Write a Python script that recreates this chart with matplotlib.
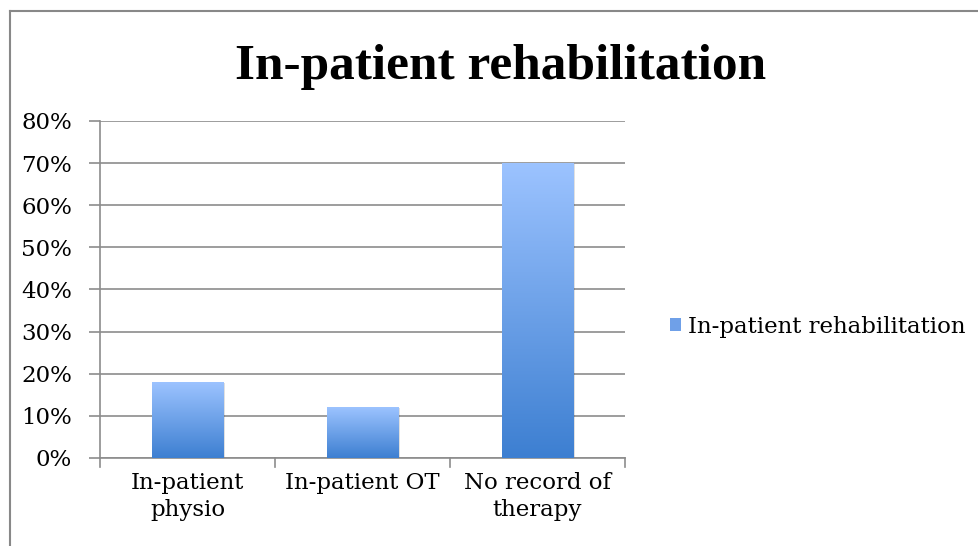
#!/usr/bin/env python3
"""In-patient rehabilitation bar chart (Excel-style gradient bars)."""

import matplotlib
matplotlib.use("Agg")
import matplotlib.pyplot as plt
import numpy as np
from matplotlib.colors import LinearSegmentedColormap
from matplotlib.lines import Line2D
from matplotlib.patches import Rectangle

categories = ["In-patient\nphysio", "In-patient OT", "No record of\ntherapy"]
values = [0.18, 0.12, 0.70]
yticks = [0.0, 0.1, 0.2, 0.3, 0.4, 0.5, 0.6, 0.7, 0.8]
ytick_labels = ["0%", "10%", "20%", "30%", "40%", "50%", "60%", "70%", "80%"]
series_name = "In-patient rehabilitation"
title = "In-patient rehabilitation"

FONT = ["DejaVu Serif"]
TITLE_FONT = ["Liberation Serif", "DejaVu Serif"]
GRID = "#8c8c8c"
TOP_BLUE = "#9cc3ff"
BOT_BLUE = "#3d7fd1"
FS = 16.5

plt.rcParams["font.family"] = FONT

fig = plt.figure(figsize=(9.79, 5.46), dpi=100)
ax = fig.add_axes([0.1021, 0.1612, 0.5363, 0.6172])

x = np.arange(len(categories))
bar_w = 0.41
bars = ax.bar(x, values, width=bar_w, color="none", zorder=3)

# vertical gradient per bar, lighter at the top
cmap = LinearSegmentedColormap.from_list("bluegrad", [BOT_BLUE, TOP_BLUE])
grad = np.linspace(0, 1, 256).reshape(-1, 1)
for b in bars:
    bx, by = b.get_x(), b.get_y()
    bw, bh = b.get_width(), b.get_height()
    # soft shadow
    ax.add_patch(Rectangle((bx + 0.012, by), bw, bh - 0.002, color="#000000",
                           alpha=0.12, zorder=2, lw=0))
    im = ax.imshow(grad, cmap=cmap, origin="lower", aspect="auto",
                   extent=(bx, bx + bw, 0, bh), zorder=3)
    im.set_clip_path(b)

ax.set_xlim(-0.5, len(categories) - 0.5)
ax.set_ylim(0, 0.8)

ax.set_yticks(yticks)
ax.set_yticklabels(ytick_labels, fontsize=FS)
ax.set_xticks(x)
ax.set_xticklabels(categories, fontsize=FS, linespacing=1.3)
ax.tick_params(axis="x", length=0, pad=10)
ax.tick_params(axis="y", length=8, color=GRID, width=1.2, pad=12)

# category separator ticks
for b in np.arange(len(categories) + 1) - 0.5:
    ax.plot([b, b], [0, -0.022], color=GRID, lw=1.2, clip_on=False, zorder=4)

ax.grid(axis="y", color=GRID, lw=1.2, zorder=0)
for side in ("top", "right"):
    ax.spines[side].set_visible(False)
ax.spines["left"].set_color(GRID)
ax.spines["bottom"].set_color(GRID)
ax.spines["left"].set_linewidth(1.2)
ax.spines["bottom"].set_linewidth(1.2)

fig.text(0.511, 0.878, title, ha="center", va="center", fontsize=37,
         fontweight="bold", family=TITLE_FONT)

# legend
handle = Rectangle((0, 0), 1, 1, facecolor="#6fa0e8", edgecolor="none")
fig.legend([handle], [series_name], loc="center left",
           bbox_to_anchor=(0.663, 0.402), frameon=False, fontsize=FS,
           handlelength=0.5, handleheight=0.5, handletextpad=0.3)

# chart frame (only the top and left edges are visible)
fig.add_artist(Line2D([10 / 979, 10 / 979], [0, 1 - 11 / 546],
                      transform=fig.transFigure, color="#888888", lw=1.5))
fig.add_artist(Line2D([10 / 979, 1], [1 - 11 / 546, 1 - 11 / 546],
                      transform=fig.transFigure, color="#888888", lw=1.5))

fig.savefig("out.png", dpi=100)
